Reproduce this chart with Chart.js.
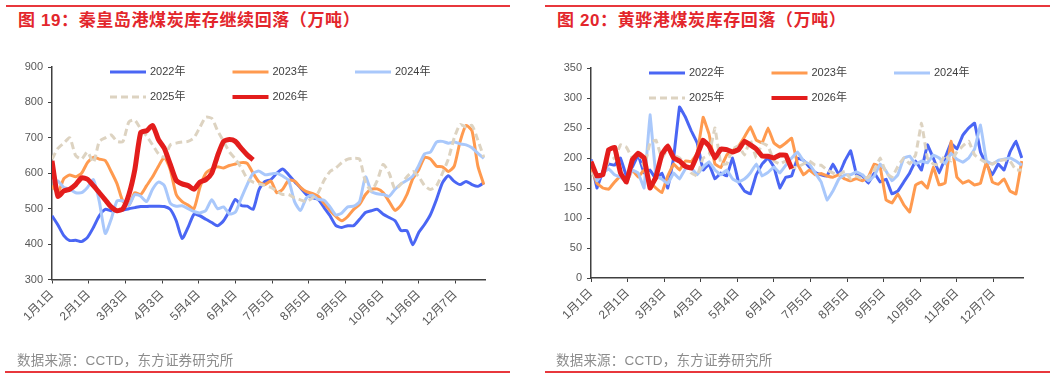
<!DOCTYPE html>
<html>
<head>
<meta charset="utf-8">
<script src="https://cdn.jsdelivr.net/npm/chart.js@4.4.1/dist/chart.umd.min.js"></script>
<style>
  body { margin: 0; background: #fff; width: 1061px; height: 378px; position: relative; overflow: hidden;
         font-family: "Liberation Sans", "Noto Sans CJK SC", sans-serif; }
  .rule { position: absolute; height: 1.5px; background: #e8373c; }
  .title { position: absolute; top: 11px; line-height: 20px; font-size: 17px; letter-spacing: 0.6px; font-weight: bold; color: #e3262c; white-space: nowrap; }
  .src { position: absolute; top: 353px; line-height: 16px; font-size: 13.5px; letter-spacing: 0.2px; color: #8c8c8c; white-space: nowrap; }
  canvas { position: absolute; top: 0; }
</style>
</head>
<body>
<div class="rule" style="left:6px;top:5px;width:504px"></div>
<div class="rule" style="left:545px;top:5px;width:505px"></div>
<div class="title" style="left:18px">图 19：秦皇岛港煤炭库存继续回落（万吨）</div>
<div class="title" style="left:557px">图 20：黄骅港煤炭库存回落（万吨）</div>
<canvas id="qhd" width="530" height="378" style="left:0"></canvas>
<canvas id="hh" width="522" height="378" style="left:539px"></canvas>
<div class="src" style="left:17px">数据来源：CCTD，东方证券研究所</div>
<div class="src" style="left:556px">数据来源：CCTD，东方证券研究所</div>
<div class="rule" style="left:5px;top:371px;width:505px"></div>
<div class="rule" style="left:545px;top:371px;width:505px"></div>

<script>
// day of year for each sample (every 5 days)
var days = [0,5,10,15,20,25,30,35,40,45,50,55,60,65,70,75,80,85,90,95,100,105,110,115,120,125,130,135,140,145,
  150,155,160,165,170,175,180,185,190,195,200,205,210,215,220,225,230,235,240,245,250,255,260,265,270,275,280,285,290,295,
  300,305,310,315,320,325,330,335,340,345,350,355,360,365];

var tickDays = [0,31,62,93,124,155,186,217,248,279,310,341];
var tickLabels = ['1月1日','2月1日','3月3日','4月3日','5月4日','6月4日','7月5日','8月5日','9月5日','10月6日','11月6日','12月7日'];
var years = ['2022年','2023年','2024年','2025年','2026年'];

// 秦皇岛港 (万吨)
var qhd2022 = [480,454,424,410,411,407,419,447,480,498,494,494,496,500,503,506,506,507,507,506,498,466,416,447,484,480,470,461,452,466,
  494,526,509,507,498,554,577,582,600,612,596,577,559,540,531,526,503,480,452,447,452,452,470,489,494,498,484,475,466,438,
  438,398,433,456,484,526,573,593,577,568,577,568,563,573];
var qhd2023 = [565,545,585,595,590,600,630,645,640,636,605,570,520,510,545,540,565,590,620,645,610,540,520,510,500,560,600,612,618,615,
  622,626,630,628,600,575,568,578,545,555,580,578,560,548,543,535,515,495,478,466,478,498,512,540,555,556,545,520,495,510,
  540,585,610,645,640,620,618,605,620,690,735,720,620,568];
var qhd2024 = [582,578,560,555,545,545,560,582,520,430,470,522,522,510,540,535,520,555,575,565,515,507,508,500,492,488,495,525,500,505,
  485,490,530,568,600,606,596,598,600,592,580,520,495,530,538,526,524,505,482,488,505,507,520,590,548,542,540,535,555,570,
  580,592,622,655,660,688,690,685,688,683,680,672,656,642];
var qhd2025 = [640,670,685,700,650,640,660,630,690,700,708,690,690,745,750,725,705,680,655,645,680,685,688,690,700,730,758,755,720,690,
  660,640,615,585,575,570,565,560,550,540,540,530,525,520,530,545,580,605,615,630,640,642,640,575,550,580,625,600,555,570,
  590,605,590,565,554,565,600,640,700,738,730,735,693,645];
var qhd2026 = [635,535,550,555,568,587,583,565,545,525,505,494,500,540,610,715,720,735,695,670,625,580,570,565,555,575,582,600,650,690,
  695,690,670,652,638];

// 黄骅港 (万吨)
var hh2022 = [198,150,178,190,188,200,170,185,205,175,180,165,175,150,200,285,268,245,225,180,190,165,175,170,200,160,145,140,172,190,
  200,185,150,168,170,200,196,185,176,172,170,190,172,195,212,172,170,158,175,160,165,140,145,160,175,195,180,222,200,175,
  200,225,215,238,250,258,210,190,172,190,180,210,228,200];
var hh2023 = [185,158,150,148,160,170,160,180,168,180,160,150,142,170,190,180,195,194,208,268,240,190,184,205,212,220,235,252,230,225,
  250,225,218,225,233,190,172,180,172,174,170,168,172,165,162,166,162,168,190,185,130,125,140,122,110,155,160,150,185,155,
  158,228,168,158,162,155,158,194,160,156,165,145,140,195];
var hh2024 = [195,162,175,182,172,168,160,180,175,150,272,170,165,157,175,165,182,183,172,185,194,180,172,180,165,160,165,175,190,170,
  176,185,175,188,200,210,195,190,175,160,130,145,165,172,172,177,172,162,170,190,178,162,172,200,203,190,195,192,205,200,
  190,208,198,193,200,215,255,195,190,196,198,200,195,188];
var hh2025 = [175,168,172,195,200,222,218,200,210,185,225,230,200,215,205,200,189,175,170,200,205,250,190,190,215,220,205,230,200,225,
  220,195,190,195,183,185,190,195,188,188,180,175,172,178,165,170,165,168,180,200,175,168,186,200,190,205,258,200,190,188,
  205,195,210,220,228,205,198,192,190,195,197,195,180,180];
var hh2026 = [194,170,172,214,218,175,160,197,208,200,150,168,206,220,200,195,186,183,205,230,220,200,215,214,210,214,228,222,215,203,
  203,200,205,205,182];

var colors = ['#4a66f4', '#ff9a4f', '#a9c8fb', '#ddd3c1', '#e31d1c'];
var fontFamily = '"Liberation Sans", "Noto Sans CJK SC", sans-serif';

Chart.defaults.font.family = fontFamily;

function toPoints(vals) {
  return vals.map(function(v, i) { return { x: days[i], y: v }; });
}

function buildDatasets(list, tension) {
  return list.map(function(vals, i) {
    return {
      label: years[i],
      data: toPoints(vals),
      borderColor: colors[i],
      borderWidth: i == 4 ? 5 : 3,
      borderDash: i == 3 ? [7, 4] : [],
      pointRadius: 0,
      tension: tension,
      fill: false,
      order: 4 - i
    };
  });
}

// legend drawn inside the plot, 3 columns x 2 rows
var innerLegend = {
  id: 'innerLegend',
  afterDraw: function(chart) {
    var ctx = chart.ctx, area = chart.chartArea;
    chart.data.datasets.forEach(function(ds, i) {
      var x = area.left + 58 + (i % 3) * 122.5;
      var y = area.top + 5 + Math.floor(i / 3) * 25;
      ctx.save();
      ctx.strokeStyle = ds.borderColor;
      ctx.lineWidth = i == 4 ? 4 : 3.2;
      ctx.setLineDash(ds.borderDash);
      ctx.beginPath();
      ctx.moveTo(x, y);
      ctx.lineTo(x + 36, y);
      ctx.stroke();
      ctx.setLineDash([]);
      ctx.fillStyle = '#404040';
      ctx.font = '11px ' + fontFamily;
      ctx.textBaseline = 'middle';
      ctx.fillText(ds.label, x + 40, y);
      ctx.restore();
    });
  }
};

function makeChart(id, list, yMin, yMax, yStep, padTop, padRight, xHeight, tension) {
  new Chart(document.getElementById(id), {
    type: 'line',
    data: { datasets: buildDatasets(list, tension) },
    options: {
      responsive: false,
      animation: false,
      devicePixelRatio: 1,
      layout: { padding: { top: padTop, right: padRight, left: 0, bottom: 0 } },
      plugins: { legend: { display: false }, tooltip: { enabled: false } },
      scales: {
        x: {
          type: 'linear',
          min: 0,
          max: 366,
          afterBuildTicks: function(axis) {
            axis.ticks = tickDays.map(function(d) { return { value: d }; });
          },
          afterFit: function(scale) { scale.height = xHeight; },
          border: { display: true, color: '#404040', width: 1.5 },
          grid: { display: true, drawOnChartArea: false, drawTicks: true, tickLength: 4, color: '#404040' },
          ticks: {
            autoSkip: false,
            minRotation: 45,
            maxRotation: 45,
            padding: 4,
            color: '#595959',
            font: { size: 12 },
            callback: function(v, i) { return tickLabels[i]; }
          }
        },
        y: {
          min: yMin,
          max: yMax,
          afterFit: function(scale) { scale.width = 52; },
          border: { display: true, color: '#404040', width: 1.5 },
          grid: { display: true, drawOnChartArea: false, drawTicks: true, tickLength: 4, color: '#404040' },
          ticks: { stepSize: yStep, padding: 5, color: '#595959', font: { size: 11 } }
        }
      }
    },
    plugins: [innerLegend]
  });
}

makeChart('qhd', [qhd2022, qhd2023, qhd2024, qhd2025, qhd2026], 300, 900, 100, 67, 45, 98.5, 0.2);
makeChart('hh', [hh2022, hh2023, hh2024, hh2025, hh2026], 0, 350, 50, 68, 38, 100, 0.05);
</script>
</body>
</html>
